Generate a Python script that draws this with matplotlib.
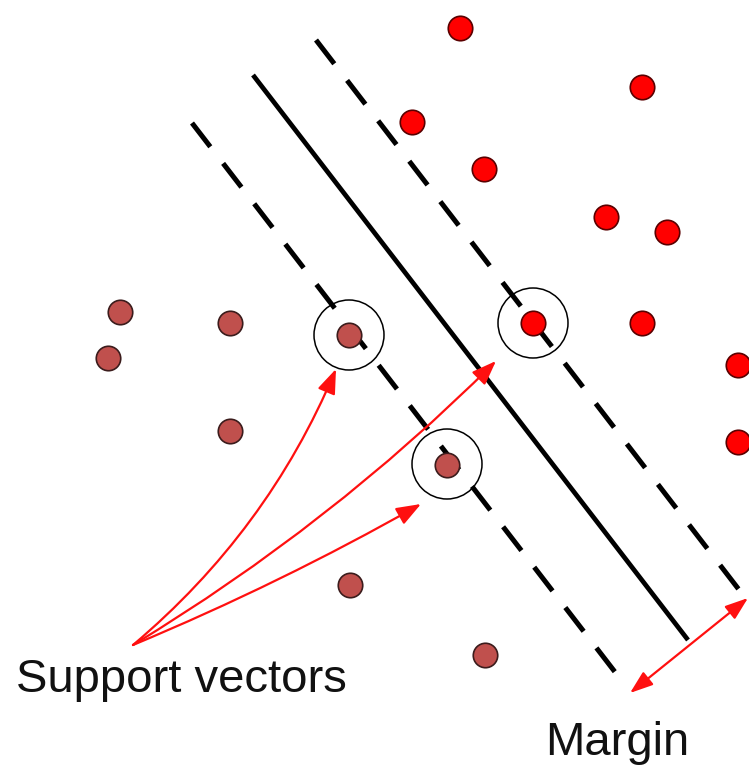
import matplotlib.pyplot as plt
from matplotlib.patches import Circle, FancyArrowPatch

plt.rcParams['lines.scale_dashes'] = False

# class A (brownish) points, pixel coordinates of the sketch
neg_x = [120, 108, 230, 349, 230, 447, 350, 485]
neg_y = [312, 358, 323, 335, 431, 465, 585, 655]

# class B (red) points
pos_x = [460, 642, 412, 484, 606, 667, 533, 642, 738, 738]
pos_y = [28, 87, 122, 169, 217, 232, 323, 323, 365, 442]

# support vectors (circled)
sv_x = [349, 533, 447]
sv_y = [335, 323, 464]

# separating line and the two margin lines
hyper_x = [253, 688]
hyper_y = [75, 640]
lower_x = [192, 615]
lower_y = [123, 672]
upper_x = [316, 760]
upper_y = [40, 617]

# arrows from the label to the support vectors
label_xy = (133, 645)
arrow_ends = [(336, 369), (421, 504), (496, 361)]
arrow_rads = [0.12, 0.03, 0.06]

margin_from = (630, 693)
margin_to = (748, 598)

fig = plt.figure(figsize=(7.49, 7.68), dpi=100)
ax = fig.add_axes([0, 0, 1, 1])
ax.set_xlim(0, 749)
ax.set_ylim(768, 0)
ax.axis('off')

ax.plot(hyper_x, hyper_y, color='black', lw=3.4, solid_capstyle='butt', zorder=2)
for xs, ys in [(lower_x, lower_y), (upper_x, upper_y)]:
    ax.plot(xs, ys, color='black', lw=3.6, dashes=(21.6, 15.1),
            dash_capstyle='butt', zorder=2)

for (ex, ey), rad in zip(arrow_ends, arrow_rads):
    a = FancyArrowPatch(label_xy, (ex, ey), connectionstyle='arc3,rad=%s' % rad,
                        arrowstyle='-|>,head_length=0.75,head_width=0.28',
                        mutation_scale=20, color='#ff1010', lw=1.6,
                        shrinkA=0, shrinkB=0, zorder=3)
    ax.add_patch(a)

m = FancyArrowPatch(margin_from, margin_to,
                    arrowstyle='<|-|>,head_length=0.7,head_width=0.25',
                    mutation_scale=20, color='#ff1010', lw=1.6,
                    shrinkA=0, shrinkB=0, zorder=3)
ax.add_patch(m)

ax.scatter(neg_x, neg_y, s=310, color='#c0504d', edgecolors='#3b1c1c',
           linewidths=1.2, zorder=4)
ax.scatter(pos_x, pos_y, s=310, color='#ff0000', edgecolors='#5a0000',
           linewidths=1.2, zorder=4)

for cx, cy in zip(sv_x, sv_y):
    ax.add_patch(Circle((cx, cy), 35, fill=False, ec='black', lw=1.1, zorder=4))

ax.text(16, 692, 'Support vectors', fontsize=34, family='Liberation Sans',
        color='#111111', va='baseline', ha='left')
ax.text(545, 755, 'Margin', fontsize=34, family='Liberation Sans',
        color='#111111', va='baseline', ha='left')

fig.savefig('out.png', dpi=100)
